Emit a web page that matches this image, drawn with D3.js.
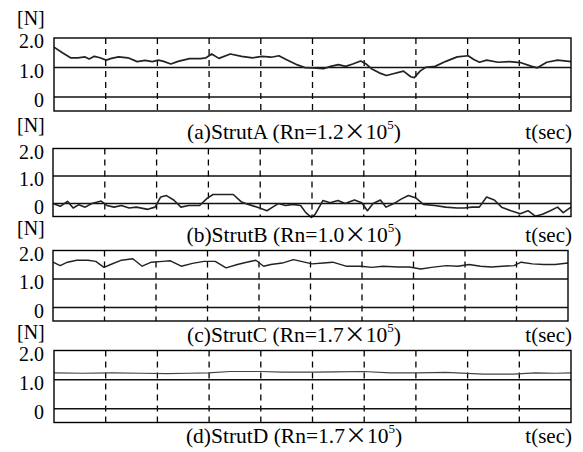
<!DOCTYPE html>
<html>
<head>
<meta charset="utf-8">
<script src="https://cdn.jsdelivr.net/npm/d3@7"></script>
<style>
  body { margin: 0; background: #fff; }
  text { font-family: "Liberation Serif", "Times New Roman", serif; fill: #000; }
</style>
</head>
<body>
<svg id="chart" width="583" height="452"></svg>
<script>
// ************** data ****************************************
var tickValues = [0, 1.0, 2.0];
var tickLabels = ["0", "1.0", "2.0"];
var gridLines  = [0, 1.0];              // solid horizontal lines
var timeDivs   = [1, 2, 3, 4, 5, 6, 7, 8, 9];

var panelTags  = ["(a)", "(b)", "(c)", "(d)"];
var panelNames = ["StrutA", "StrutB", "StrutC", "StrutD"];
var rnValues   = ["1.2", "1.0", "1.7", "1.7"];

// time in divisions (0..10), force in N
var strutA_t = [0,0.17,0.32,0.46,0.60,0.68,0.78,0.89,1.01,1.11,1.25,1.43,1.61,1.76,1.90,2.02,2.12,2.26,2.40,2.62,2.83,2.94,3.05,3.19,3.41,3.63,3.84,4.02,4.20,4.35,4.49,4.71,4.85,5.01,5.21,5.35,5.50,5.64,5.78,5.93,6.04,6.14,6.29,6.43,6.58,6.76,6.90,6.97,7.08,7.19,7.37,7.58,7.80,8.01,8.12,8.23,8.37,8.59,8.81,9.02,9.24,9.35,9.53,9.74,10];
var strutA_f = [1.69,1.49,1.33,1.33,1.36,1.29,1.38,1.33,1.25,1.31,1.36,1.33,1.20,1.24,1.20,1.25,1.21,1.12,1.21,1.30,1.30,1.33,1.46,1.31,1.46,1.38,1.33,1.38,1.35,1.40,1.27,1.09,1.00,0.99,0.96,1.04,1.10,1.04,1.12,1.22,1.12,0.96,0.82,0.73,0.80,0.88,0.69,0.66,0.88,1.01,1.04,1.21,1.36,1.40,1.27,1.18,1.25,1.18,1.20,1.17,1.04,0.99,1.18,1.25,1.20];

var strutB_t = [0,0.14,0.28,0.39,0.50,0.62,0.75,0.93,1.04,1.18,1.32,1.47,1.61,1.83,1.97,2.08,2.19,2.33,2.47,2.62,2.83,2.98,3.09,3.27,3.48,3.63,3.77,3.99,4.13,4.24,4.35,4.49,4.63,4.78,4.88,4.99,5.06,5.21,5.35,5.50,5.64,5.82,5.96,6.07,6.18,6.32,6.43,6.58,6.72,6.86,7.01,7.15,7.37,7.58,7.80,7.94,8.09,8.23,8.37,8.52,8.66,8.84,9.02,9.17,9.31,9.45,9.60,9.74,9.85,10];
var strutB_f = [0,-0.10,0.08,-0.16,-0.04,-0.13,0,0.09,-0.07,-0.13,-0.07,-0.16,-0.13,-0.21,-0.13,0.24,0.29,0.13,-0.13,-0.07,-0.07,0.20,0.33,0.33,0.33,0.07,-0.03,-0.16,-0.26,-0.13,0,-0.07,-0.03,-0.07,-0.33,-0.50,-0.39,0.11,0.03,0.11,0,0.13,0.03,-0.26,0,0.13,-0.13,0,0.16,0.29,0.20,-0.03,-0.07,-0.13,-0.16,-0.16,-0.13,-0.13,0.24,0.13,-0.13,-0.26,-0.37,-0.26,-0.46,-0.39,-0.26,-0.13,-0.33,-0.13];

var strutC_t = [0,0.14,0.28,0.46,0.68,0.83,0.99,1.12,1.33,1.55,1.73,1.91,2.13,2.28,2.49,2.71,2.93,3.15,3.36,3.58,3.76,3.94,4.09,4.23,4.45,4.67,4.82,5.03,5.25,5.43,5.69,5.98,6.19,6.41,6.70,6.92,7.14,7.35,7.64,7.86,8.08,8.30,8.51,8.73,8.95,9.09,9.31,9.53,9.75,10];
var strutC_f = [1.59,1.47,1.59,1.66,1.66,1.62,1.41,1.51,1.66,1.71,1.45,1.59,1.62,1.64,1.45,1.55,1.62,1.62,1.39,1.51,1.59,1.66,1.45,1.51,1.56,1.68,1.62,1.53,1.56,1.59,1.45,1.45,1.41,1.45,1.42,1.42,1.35,1.41,1.47,1.45,1.51,1.45,1.42,1.45,1.47,1.59,1.53,1.51,1.51,1.56];

var strutD_t = [0,0.55,1.11,1.70,2.19,2.60,2.98,3.41,3.99,4.42,5.06,5.42,5.99,6.50,7.01,7.58,8.30,8.88,9.31,9.70,10];
var strutD_f = [1.23,1.22,1.23,1.22,1.21,1.22,1.23,1.28,1.28,1.26,1.26,1.27,1.28,1.23,1.23,1.25,1.19,1.19,1.23,1.22,1.23];

var series = [
	{t: strutA_t, f: strutA_f},
	{t: strutB_t, f: strutB_f},
	{t: strutC_t, f: strutC_f},
	{t: strutD_t, f: strutD_f}
];

// ************** layout *****************
var layout = [
	{top: 38,    bottom: 111,   left: 54, right: 571, nY: 25,  titleY: 139},
	{top: 148.5, bottom: 216.5, left: 53, right: 571, nY: 132, titleY: 242},
	{top: 250.5, bottom: 321,   left: 53, right: 568, nY: 235, titleY: 342},
	{top: 350.5, bottom: 422.5, left: 54, right: 571, nY: 339, titleY: 443}
];
var yDomain = [-0.47, 2.0];
var lineColor = ["#222", "#222", "#222", "#444"];
var lineWidth = [1.7, 1.6, 1.4, 1.2];

var svg = d3.select("#chart");

layout.forEach(function(p, i) {
	var x = d3.scaleLinear().domain([0, 10]).range([p.left, p.right]);
	var y = d3.scaleLinear().domain(yDomain).range([p.bottom, p.top]);
	var g = svg.append("g");

	//	dashed time divisions
	g.selectAll(".div")
		.data(timeDivs)
		.enter().append("line")
		.attr("x1", function(d) { return x(d); })
		.attr("x2", function(d) { return x(d); })
		.attr("y1", p.top)
		.attr("y2", p.bottom)
		.attr("stroke", "#000")
		.attr("stroke-width", 1.3)
		.attr("stroke-dasharray", "6,5");

	//	solid lines at 0 and 1.0
	g.selectAll(".grid")
		.data(gridLines)
		.enter().append("line")
		.attr("x1", p.left)
		.attr("x2", p.right)
		.attr("y1", function(d) { return y(d); })
		.attr("y2", function(d) { return y(d); })
		.attr("stroke", "#111")
		.attr("stroke-width", 1.5);

	//	the trace
	var s = series[i];
	var pts = s.t.map(function(t, k) { return [t, s.f[k]]; });
	g.append("path")
		.datum(pts)
		.attr("fill", "none")
		.attr("stroke", lineColor[i])
		.attr("stroke-width", lineWidth[i])
		.attr("stroke-linejoin", "round")
		.attr("d", d3.line()
			.x(function(d) { return x(d[0]); })
			.y(function(d) { return y(d[1]); }));

	//	frame
	g.append("rect")
		.attr("x", p.left)
		.attr("y", p.top)
		.attr("width", p.right - p.left)
		.attr("height", p.bottom - p.top)
		.attr("fill", "none")
		.attr("stroke", "#000")
		.attr("stroke-width", 1.4);

	//	y labels
	g.selectAll(".tick")
		.data(tickValues)
		.enter().append("text")
		.attr("x", 44)
		.attr("y", function(d) { return y(d) + 10; })
		.style("text-anchor", "end")
		.style("font-size", "20px")
		.text(function(d, k) { return tickLabels[k]; });

	g.append("text")
		.attr("x", 17)
		.attr("y", p.nY)
		.style("font-size", "20px")
		.text("[N]");

	//	title
	var title = g.append("text")
		.attr("x", 294)
		.attr("y", p.titleY)
		.style("text-anchor", "middle")
		.style("font-size", "21.5px");
	title.append("tspan").text(panelTags[i] + panelNames[i] + " (Rn=" + rnValues[i]);
	title.append("tspan").style("font-family", "'Noto Sans CJK JP'").style("font-size", "22px").text("×");
	title.append("tspan").text("10");
	title.append("tspan").attr("dy", -10).style("font-size", "13px").text("5");
	title.append("tspan").attr("dy", 10).text(")");

	g.append("text")
		.attr("x", 572)
		.attr("y", p.titleY)
		.style("text-anchor", "end")
		.style("font-size", "21px")
		.text("t(sec)");
});
</script>
</body>
</html>
